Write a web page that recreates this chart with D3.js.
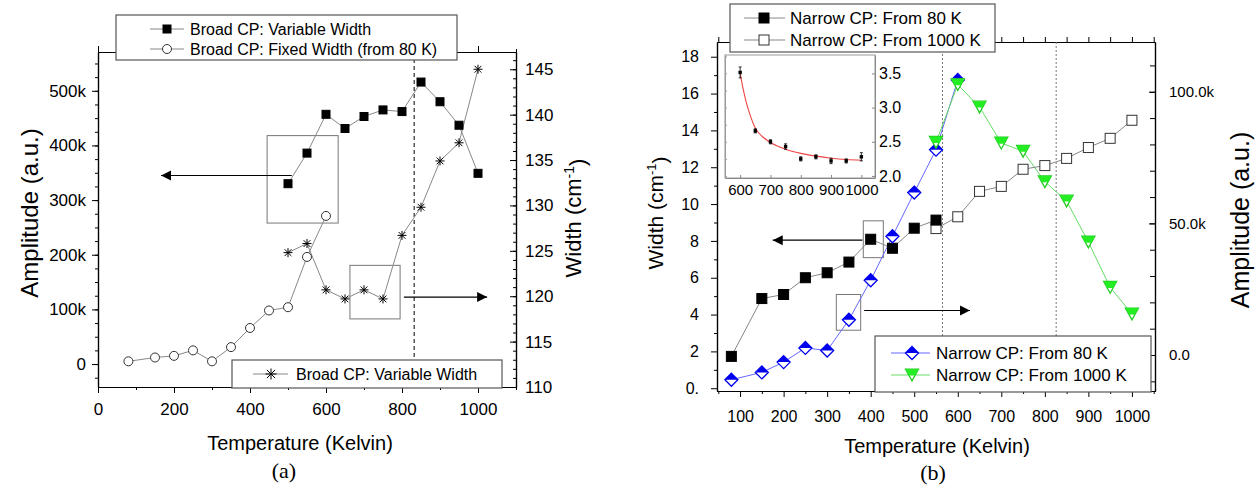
<!DOCTYPE html>
<html><head><meta charset="utf-8">
<script src="https://cdnjs.cloudflare.com/ajax/libs/d3/7.8.5/d3.min.js"></script>
<style>
body{margin:0;background:#fff}
text{font-family:"Liberation Sans",Arial,sans-serif;fill:#000}
</style>
</head><body>
<svg id="c" width="1259" height="489" xmlns="http://www.w3.org/2000/svg"></svg>
<script>
// ---------- DATA (panel a) ----------
const broadVarT = [500,550,600,650,700,750,800,850,900,950,1000];
const broadVarAmp = [330000,386000,457000,431000,453000,465000,462000,516000,480000,437000,349000];
const broadVarWidth = [124.8,125.8,120.7,119.7,120.7,119.7,126.7,129.8,134.9,136.9,145.0];
const broadFixT = [80,150,200,250,300,350,400,450,500,550,600];
const broadFixAmp = [5000,12000,15000,25000,5000,31000,66000,98000,104000,196000,271000];
const aXTicks = [0,200,400,600,800,1000];
const aAmpTicks = [0,100000,200000,300000,400000,500000];
const aWidthTicks = [110,115,120,125,130,135,140,145];

// ---------- DATA (panel b) ----------
const narrow80T = [80,150,200,250,300,350,400,450,500,550];
const narrow80W = [1.73,4.87,5.09,6.0,6.27,6.85,8.09,7.6,8.69,9.13];
const narrow1000T = [550,600,650,700,750,800,850,900,950,1000];
const narrow1000W = [8.67,9.31,10.69,10.96,11.89,12.09,12.48,13.07,13.57,14.55];
const narrow80AmpT = [80,150,200,250,300,350,400,450,500,550,600];
const narrow80Amp = [-9400,-6600,-2700,2700,1700,13400,28400,45100,61700,78000,104500];
const narrow1000AmpT = [550,600,650,700,750,800,850,900,950,1000];
const narrow1000Amp = [80800,102700,94200,80500,77400,65800,58500,42900,25700,15600];
const bXTicks = [100,200,300,400,500,600,700,800,900,1000];
const bWidthTicks = [0,2,4,6,8,10,12,14,16,18];
const bAmpTicks = [0,50000,100000];
const bAmpLabels = ["0.0","50.0k","100.0k"];

// inset
const insetT = [600,650,700,750,800,850,900,950,1000];
const insetW = [3.515,2.66,2.50,2.43,2.25,2.28,2.22,2.22,2.28];
const insetErr = [0.08,0.03,0.03,0.04,0.03,0.03,0.04,0.03,0.06];
const fitT = [600,610,620,633,650,675,700,750,800,850,900,950,1000];
const fitW = [3.50,3.27,3.08,2.89,2.70,2.57,2.49,2.39,2.33,2.29,2.26,2.24,2.23];
const insetXTicks = [600,700,800,900,1000];
const insetYTicks = [2.0,2.5,3.0,3.5];

const svg = d3.select("#c");

// arrow marker
const defs = svg.append("defs");
defs.append("marker").attr("id","arr").attr("markerUnits","userSpaceOnUse")
  .attr("markerWidth",12).attr("markerHeight",12).attr("refX",10).attr("refY",6)
  .attr("orient","auto")
  .append("path").attr("d","M0,1 L10,6 L0,11 Z").attr("fill","#000");

function styleAxis(g, fs){
  g.selectAll("path.domain").attr("stroke","#000").attr("stroke-width",1.2);
  g.selectAll(".tick line").attr("stroke","#000").attr("stroke-width",1);
  g.selectAll(".tick text").style("font-size",fs+"px").attr("fill","#000");
  g.attr("font-family",null);
}
function rangeStep(a,b,s){const r=[];for(let v=a;v<=b+1e-9;v+=s)r.push(+v.toFixed(6));return r;}

function asterisk(g,x,y,r){
  const a = g.append("g").attr("transform",`translate(${x},${y})`).attr("stroke","#000").attr("stroke-width",1);
  a.append("line").attr("x1",-r).attr("x2",r).attr("y1",0).attr("y2",0);
  a.append("line").attr("x1",0).attr("x2",0).attr("y1",-r).attr("y2",r);
  const d=r*0.75;
  a.append("line").attr("x1",-d).attr("x2",d).attr("y1",-d).attr("y2",d);
  a.append("line").attr("x1",-d).attr("x2",d).attr("y1",d).attr("y2",-d);
}
function square(g,x,y,s,fill){
  g.append("rect").attr("x",x-s/2).attr("y",y-s/2).attr("width",s).attr("height",s)
   .attr("fill",fill).attr("stroke",fill==="#000"?"#000":"#333").attr("stroke-width",1);
}
function circle(g,x,y,r){
  g.append("circle").attr("cx",x).attr("cy",y).attr("r",r).attr("fill","#fff").attr("stroke","#333").attr("stroke-width",1);
}
function diamond(g,x,y,w){
  const t = g.append("g").attr("transform",`translate(${x},${y})`);
  t.append("path").attr("d",`M0,${-w} L${w},0 L0,${w} L${-w},0 Z`).attr("fill","#fff").attr("stroke","#0000ee").attr("stroke-width",1.3);
  t.append("path").attr("d",`M0,${-w} L${w},0 L${-w},0 Z`).attr("fill","#0000ee");
}
function triDown(g,x,y,w){
  const t = g.append("g").attr("transform",`translate(${x},${y})`);
  const h=w*0.9;
  t.append("path").attr("d",`M${-w},${-h} L${w},${-h} L0,${h} Z`).attr("fill","#fff").attr("stroke","#22cc22").attr("stroke-width",1.3);
  t.append("path").attr("d",`M${-w},${-h} L${w},${-h} L${w*0.45},${0.1*h} L${-w*0.45},${0.1*h} Z`).attr("fill","#22ee22");
}

// ================= PANEL A =================
const A = {x0:98,x1:516,y0:52,y1:387};
const xA = d3.scaleLinear([0,1100],[A.x0,A.x1]);
const yAmpA = d3.scaleLinear([-42000,571000],[A.y1,A.y0]);
const yWA = d3.scaleLinear([110,146.9],[A.y1,A.y0]);
const gA = svg.append("g");

// axes
let ax;
ax = gA.append("g").attr("transform",`translate(0,${A.y1})`)
  .call(d3.axisBottom(xA).tickValues(aXTicks).tickSize(6).tickSizeOuter(0).tickPadding(10).tickFormat(d3.format("d")));
styleAxis(ax,17);
ax = gA.append("g").attr("transform",`translate(0,${A.y1})`)
  .call(d3.axisBottom(xA).tickValues(rangeStep(100,1100,200)).tickSize(3).tickSizeOuter(0).tickFormat(""));
styleAxis(ax,17);
ax = gA.append("g").attr("transform",`translate(0,${A.y0})`)
  .call(d3.axisTop(xA).tickValues(aXTicks).tickSize(6).tickSizeOuter(0).tickFormat(""));
styleAxis(ax,17);
ax = gA.append("g").attr("transform",`translate(0,${A.y0})`)
  .call(d3.axisTop(xA).tickValues(rangeStep(100,1100,200)).tickSize(3).tickSizeOuter(0).tickFormat(""));
styleAxis(ax,17);
ax = gA.append("g").attr("transform",`translate(${A.x0},0)`)
  .call(d3.axisLeft(yAmpA).tickValues(aAmpTicks).tickSize(6).tickSizeOuter(0).tickPadding(6)
  .tickFormat(d=>d===0?"0":(d/1000)+"k"));
styleAxis(ax,17);
ax = gA.append("g").attr("transform",`translate(${A.x0},0)`)
  .call(d3.axisLeft(yAmpA).tickValues(rangeStep(-25000,550000,25000)).tickSize(3).tickSizeOuter(0).tickFormat(""));
styleAxis(ax,17);
ax = gA.append("g").attr("transform",`translate(${A.x1},0)`)
  .call(d3.axisRight(yWA).tickValues(aWidthTicks).tickSize(-6).tickSizeOuter(0).tickPadding(9));
styleAxis(ax,17);
ax = gA.append("g").attr("transform",`translate(${A.x1},0)`)
  .call(d3.axisRight(yWA).tickValues(rangeStep(111,146,1)).tickSize(-3).tickSizeOuter(0).tickFormat(""));
styleAxis(ax,17);

// dashed vertical
gA.append("line").attr("x1",xA(832)).attr("x2",xA(832)).attr("y1",A.y0).attr("y2",A.y1)
  .attr("stroke","#000").attr("stroke-width",1).attr("stroke-dasharray","4,3");

// annotation boxes
gA.append("rect").attr("x",xA(445)).attr("y",yAmpA(418000)).attr("width",xA(632)-xA(445)).attr("height",yAmpA(258000)-yAmpA(418000))
  .attr("fill","none").attr("stroke","#777").attr("stroke-width",1);
gA.append("rect").attr("x",xA(663)).attr("y",yWA(123.4)).attr("width",xA(795)-xA(663)).attr("height",yWA(117.5)-yWA(123.4))
  .attr("fill","none").attr("stroke","#777").attr("stroke-width",1);
// arrows
gA.append("line").attr("x1",xA(510)).attr("x2",xA(166)).attr("y1",yAmpA(345000)).attr("y2",yAmpA(345000))
  .attr("stroke","#000").attr("stroke-width",1.2).attr("marker-end","url(#arr)");
gA.append("line").attr("x1",xA(805)).attr("x2",xA(1024)).attr("y1",yWA(119.9)).attr("y2",yWA(119.9))
  .attr("stroke","#000").attr("stroke-width",1.2).attr("marker-end","url(#arr)");

// lines
const lineStyle = (p,c)=>p.attr("fill","none").attr("stroke",c).attr("stroke-width",1);
lineStyle(gA.append("path").attr("d",d3.line()(broadFixT.map((t,i)=>[xA(t),yAmpA(broadFixAmp[i])]))),"#888");
lineStyle(gA.append("path").attr("d",d3.line()(broadVarT.map((t,i)=>[xA(t),yAmpA(broadVarAmp[i])]))),"#888");
lineStyle(gA.append("path").attr("d",d3.line()(broadVarT.map((t,i)=>[xA(t),yWA(broadVarWidth[i])]))),"#888");
broadFixT.forEach((t,i)=>circle(gA,xA(t),yAmpA(broadFixAmp[i]),4.5));
broadVarT.forEach((t,i)=>square(gA,xA(t),yAmpA(broadVarAmp[i]),8,"#000"));
broadVarT.forEach((t,i)=>asterisk(gA,xA(t),yWA(broadVarWidth[i]),4.5));

// legends
function legendBox(g,x0,y0,x1,y1){
  g.append("rect").attr("x",x0).attr("y",y0).attr("width",x1-x0).attr("height",y1-y0)
   .attr("fill","#fff").attr("stroke","#555").attr("stroke-width",1.2);
}
legendBox(gA,116,15,457,60);
[["Broad CP: Variable Width",29,"sq"],["Broad CP: Fixed Width (from 80 K)",49,"ci"]].forEach(([t,y,k])=>{
  gA.append("line").attr("x1",150).attr("x2",184).attr("y1",y).attr("y2",y).attr("stroke","#888");
  if(k==="sq") square(gA,167,y,8,"#000"); else circle(gA,167,y,4.5);
  gA.append("text").attr("x",190).attr("y",y).attr("dy","0.36em").style("font-size","16px").text(t);
});
legendBox(gA,232,360,502,388);
gA.append("line").attr("x1",253).attr("x2",288).attr("y1",374).attr("y2",374).attr("stroke","#888");
asterisk(gA,271,374,5.5);
gA.append("text").attr("x",296).attr("y",374).attr("dy","0.36em").style("font-size","16px").text("Broad CP: Variable Width");

// titles
gA.append("text").attr("x",300).attr("y",443).attr("text-anchor","middle").attr("dy","0.36em").style("font-size","20px").text("Temperature (Kelvin)");
gA.append("text").attr("transform","translate(29,213) rotate(-90)").attr("text-anchor","middle").attr("dy","0.36em").style("font-size","24px").text("Amplitude (a.u.)");
{
  const t = gA.append("text").attr("transform","translate(573,218) rotate(-90)").attr("text-anchor","middle").attr("dy","0.36em").style("font-size","22px");
  t.append("tspan").text("Width (cm");
  t.append("tspan").attr("dy","-0.5em").style("font-size","14px").text("-1");
  t.append("tspan").attr("dy","0.5em").text(")");
}
gA.append("text").attr("x",284).attr("y",470).attr("text-anchor","middle").attr("dy","0.36em")
  .style("font-family","'Liberation Serif','Times New Roman',serif").style("font-size","22px").text("(a)");

// ================= PANEL B =================
const B = {x0:717,x1:1155,y0:42,y1:391};
const xB = d3.scaleLinear([47,1053],[B.x0,B.x1]);
const yWB = d3.scaleLinear([-0.15,18.8],[B.y1,B.y0]);
const yAB = d3.scaleLinear([-13670,118900],[B.y1,B.y0]);
const gB = svg.append("g");

ax = gB.append("g").attr("transform",`translate(0,${B.y1})`)
  .call(d3.axisBottom(xB).tickValues(bXTicks).tickSize(6).tickSizeOuter(0).tickPadding(14).tickFormat(d3.format("d")));
styleAxis(ax,16);
ax = gB.append("g").attr("transform",`translate(0,${B.y1})`)
  .call(d3.axisBottom(xB).tickValues(rangeStep(50,1050,100)).tickSize(3).tickSizeOuter(0).tickFormat(""));
styleAxis(ax,16);
ax = gB.append("g").attr("transform",`translate(0,${B.y0})`)
  .call(d3.axisTop(xB).tickValues(rangeStep(50,1050,50)).tickSize(5).tickSizeOuter(0).tickFormat(""));
styleAxis(ax,16);
ax = gB.append("g").attr("transform",`translate(${B.x0},0)`)
  .call(d3.axisLeft(yWB).tickValues(bWidthTicks).tickSize(6).tickSizeOuter(0).tickPadding(12)
  .tickFormat(d=>d===0?"0.":String(d)));
styleAxis(ax,16);
ax = gB.append("g").attr("transform",`translate(${B.x0},0)`)
  .call(d3.axisLeft(yWB).tickValues(rangeStep(1,17,2)).tickSize(3).tickSizeOuter(0).tickFormat(""));
styleAxis(ax,16);
ax = gB.append("g").attr("transform",`translate(${B.x1},0)`)
  .call(d3.axisRight(yAB).tickValues(bAmpTicks).tickSize(-6).tickSizeOuter(0).tickPadding(14)
  .tickFormat((d,i)=>bAmpLabels[i]));
styleAxis(ax,15);
ax = gB.append("g").attr("transform",`translate(${B.x1},0)`)
  .call(d3.axisRight(yAB).tickValues(rangeStep(-10000,110000,10000)).tickSize(-5).tickSizeOuter(0).tickFormat(""));
styleAxis(ax,15);

// dotted verticals
[565,826].forEach(t=>gB.append("line").attr("x1",xB(t)).attr("x2",xB(t)).attr("y1",B.y0).attr("y2",B.y1)
  .attr("stroke","#777").attr("stroke-width",1).attr("stroke-dasharray","2,2"));

// annotation boxes and arrows
gB.append("rect").attr("x",xB(383)).attr("y",yWB(9.09)).attr("width",xB(429)-xB(383)).attr("height",yWB(7.09)-yWB(9.09))
  .attr("fill","none").attr("stroke","#777");
gB.append("rect").attr("x",xB(321)).attr("y",yWB(5.09)).attr("width",xB(377)-xB(321)).attr("height",yWB(3.15)-yWB(5.09))
  .attr("fill","none").attr("stroke","#777");
gB.append("line").attr("x1",xB(381)).attr("x2",xB(175)).attr("y1",yWB(8.04)).attr("y2",yWB(8.04))
  .attr("stroke","#000").attr("stroke-width",1.2).attr("marker-end","url(#arr)");
gB.append("line").attr("x1",xB(385)).attr("x2",xB(628)).attr("y1",yWB(4.22)).attr("y2",yWB(4.22))
  .attr("stroke","#000").attr("stroke-width",1.2).attr("marker-end","url(#arr)");

// series
lineStyle(gB.append("path").attr("d",d3.line()(narrow80AmpT.map((t,i)=>[xB(t),yAB(narrow80Amp[i])]))),"#6666ff");
lineStyle(gB.append("path").attr("d",d3.line()(narrow1000AmpT.map((t,i)=>[xB(t),yAB(narrow1000Amp[i])]))),"#66dd66");
lineStyle(gB.append("path").attr("d",d3.line()(narrow80T.map((t,i)=>[xB(t),yWB(narrow80W[i])]))),"#888");
lineStyle(gB.append("path").attr("d",d3.line()(narrow1000T.map((t,i)=>[xB(t),yWB(narrow1000W[i])]))),"#888");
narrow1000T.forEach((t,i)=>square(gB,xB(t),yWB(narrow1000W[i]),10,"#fff"));
narrow80T.forEach((t,i)=>square(gB,xB(t),yWB(narrow80W[i]),10,"#000"));
narrow80AmpT.forEach((t,i)=>diamond(gB,xB(t),yAB(narrow80Amp[i]),6.5));
narrow1000AmpT.forEach((t,i)=>triDown(gB,xB(t),yAB(narrow1000Amp[i]),6.5));

// inset
const I = {x0:725,x1:875,y0:55,y1:178};
const xI = d3.scaleLinear([550,1045],[I.x0,I.x1]);
const yI = d3.scaleLinear([1.97,3.77],[I.y1,I.y0]);
const gI = gB.append("g");
gI.append("rect").attr("x",I.x0).attr("y",I.y0).attr("width",I.x1-I.x0).attr("height",I.y1-I.y0)
  .attr("fill","#fff").attr("stroke","#999").attr("stroke-width",1);
ax = gI.append("g").attr("transform",`translate(0,${I.y1})`)
  .call(d3.axisBottom(xI).tickValues(insetXTicks).tickSize(-3).tickSizeOuter(0).tickPadding(6).tickFormat(d3.format("d")));
styleAxis(ax,15); ax.selectAll("path.domain,.tick line").attr("stroke","#888").attr("stroke-width",1);
ax = gI.append("g").attr("transform",`translate(${I.x1},0)`)
  .call(d3.axisRight(yI).tickValues(insetYTicks).tickSize(-3).tickSizeOuter(0).tickPadding(4).tickFormat(d3.format(".1f")));
styleAxis(ax,16); ax.selectAll("path.domain,.tick line").attr("stroke","#888").attr("stroke-width",1);
ax = gI.append("g").attr("transform",`translate(${I.x0},0)`)
  .call(d3.axisLeft(yI).tickValues(rangeStep(2.0,3.75,0.25)).tickSize(-2).tickSizeOuter(0).tickFormat(""));
ax.selectAll("path.domain").attr("stroke","#999"); ax.selectAll(".tick line").attr("stroke","#999");
gI.append("path").attr("d",d3.line().curve(d3.curveMonotoneX)(fitT.map((t,i)=>[xI(t),yI(fitW[i])])))
  .attr("fill","none").attr("stroke","#ee4444").attr("stroke-width",1.1);
insetT.forEach((t,i)=>{
  const x=xI(t), y1=yI(insetW[i]-insetErr[i]), y2=yI(insetW[i]+insetErr[i]);
  gI.append("line").attr("x1",x).attr("x2",x).attr("y1",y1).attr("y2",y2).attr("stroke","#000").attr("stroke-width",0.8);
  gI.append("line").attr("x1",x-1.5).attr("x2",x+1.5).attr("y1",y1).attr("y2",y1).attr("stroke","#000").attr("stroke-width",0.8);
  gI.append("line").attr("x1",x-1.5).attr("x2",x+1.5).attr("y1",y2).attr("y2",y2).attr("stroke","#000").attr("stroke-width",0.8);
  gI.append("rect").attr("x",x-1.7).attr("y",yI(insetW[i])-1.7).attr("width",3.4).attr("height",3.4).attr("fill","#000");
});

// legends
legendBox(gB,730,4,995,52);
[["Narrow CP: From 80 K",18,"#000"],["Narrow CP: From 1000 K",40,"#fff"]].forEach(([t,y,f])=>{
  gB.append("line").attr("x1",744).attr("x2",785).attr("y1",y).attr("y2",y).attr("stroke","#888");
  square(gB,764,y,10,f);
  gB.append("text").attr("x",790).attr("y",y).attr("dy","0.36em").style("font-size","17px").text(t);
});
legendBox(gB,875,336,1151,392);
gB.append("line").attr("x1",891).attr("x2",930).attr("y1",353).attr("y2",353).attr("stroke","#6666ff");
diamond(gB,912,353,6.5);
gB.append("text").attr("x",936).attr("y",353).attr("dy","0.36em").style("font-size","17px").text("Narrow CP: From 80 K");
gB.append("line").attr("x1",891).attr("x2",930).attr("y1",375).attr("y2",375).attr("stroke","#66dd66");
triDown(gB,912,375,6.5);
gB.append("text").attr("x",936).attr("y",375).attr("dy","0.36em").style("font-size","17px").text("Narrow CP: From 1000 K");

// titles
gB.append("text").attr("x",937).attr("y",446).attr("text-anchor","middle").attr("dy","0.36em").style("font-size","20px").text("Temperature (Kelvin)");
{
  const t = gB.append("text").attr("transform","translate(655,213) rotate(-90)").attr("text-anchor","middle").attr("dy","0.36em").style("font-size","21px");
  t.append("tspan").text("Width (cm");
  t.append("tspan").attr("dy","-0.5em").style("font-size","13px").text("-1");
  t.append("tspan").attr("dy","0.5em").text(")");
}
gB.append("text").attr("transform","translate(1240,220) rotate(-90)").attr("text-anchor","middle").attr("dy","0.36em").style("font-size","25px").text("Amplitude (a.u.)");
gB.append("text").attr("x",933).attr("y",472).attr("text-anchor","middle").attr("dy","0.36em")
  .style("font-family","'Liberation Serif','Times New Roman',serif").style("font-size","22px").text("(b)");
</script>
</body></html>
